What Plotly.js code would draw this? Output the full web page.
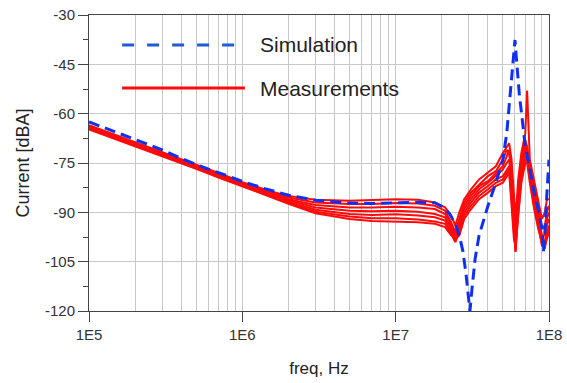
<!DOCTYPE html>
<html>
<head>
<meta charset="utf-8">
<script src="https://cdn.plot.ly/plotly-3.0.1.min.js"></script>
<style>html,body{margin:0;padding:0;background:#fff;}#chart{width:567px;height:383px;}</style>
</head>
<body>
<div id="chart"></div>
<script>
// ---- Data ----
var legendLabels = ["Simulation", "Measurements"];
var xTickVals = [1e5, 1e6, 1e7, 1e8];
var xTickText = ["1E5", "1E6", "1E7", "1E8"];
var yTickVals = [-30, -45, -60, -75, -90, -105, -120];
var yTickText = ["-30", "-45", "-60", "-75", "-90", "-105", "-120"];

var simFreq = [1e5,1.3e5,1.8e5,2.5e5,3e5,4e5,5.5e5,7.7e5,1e6,1.4e6,2e6,3e6,5e6,7e6,1e7,1.4e7,1.8e7,2.05e7,2.25e7,2.45e7,2.6e7,2.75e7,2.88e7,2.98e7,3.05e7,3.15e7,3.3e7,3.5e7,3.8e7,4e7,4.5e7,5e7,5.3e7,5.6e7,5.8e7,6.0e7,6.1e7,6.2e7,6.4e7,6.7e7,7e7,7.5e7,8e7,8.5e7,9e7,9.2e7,9.4e7,9.7e7,1e8];
var simVal  = [-62.5,-64.5,-67,-69.5,-71,-73.6,-76.2,-78.6,-80.6,-82.8,-84.8,-86.3,-87.2,-87.3,-87.2,-86.9,-87.1,-88.5,-90.5,-93.5,-97,-102,-109,-116,-120,-113,-104,-97,-91,-88,-81,-74,-66,-54,-45,-37.6,-42,-46,-54,-62,-70,-77,-84,-89,-95,-102,-96,-84,-74];

var measFreq = [1e5,1.5e5,2e5,3e5,5e5,7e5,1e6,1.5e6,2e6,3e6,5e6,7e6,1e7,1.4e7,1.8e7,2.1e7,2.3e7,2.45e7,2.6e7,2.8e7,3.1e7,3.5e7,4e7,4.5e7,5e7,5.3e7,5.5e7,5.7e7,5.9e7,6.05e7,6.3e7,6.6e7,7e7,7.2e7,7.5e7,8e7,8.5e7,9e7,9.4e7,9.7e7,1e8];
var meas1 = [-63.5,-66.5,-68.5,-71.5,-75.5,-78,-80.8,-83.5,-85,-86.2,-86.5,-86.3,-86,-86.2,-87,-88.5,-91,-94,-90,-86,-83,-80,-78,-76,-72,-70,-69,-74,-85,-92,-80,-72,-66,-53,-74,-80,-86,-92,-90,-86,-86];
var meas2 = [-63.8,-66.8,-68.8,-71.8,-75.8,-78.3,-81,-83.8,-85.5,-87,-87.5,-87.5,-87.2,-87.3,-88,-89.5,-93,-96,-92,-87,-84,-81.5,-79,-77.5,-74,-71,-72,-78,-90,-96,-83,-74,-68,-70,-76,-82,-88,-95,-94,-90,-88];
var meas3 = [-64,-67,-69,-72,-76,-78.5,-81.2,-84,-86,-87.8,-88.5,-88.5,-88.3,-88.5,-89,-90.5,-94,-97,-93,-88,-85,-82,-80.5,-78,-76,-73,-71,-80,-93,-99,-85,-76,-70,-71,-77,-84,-90,-97,-97,-92,-90];
var meas4 = [-64.2,-67.2,-69.2,-72.2,-76.2,-78.8,-81.5,-84.3,-86.3,-88.5,-89.5,-89.7,-89.5,-89.8,-90.5,-91.5,-95,-98,-94,-89,-86,-83,-81,-79,-77,-75,-74,-82,-95,-101,-87,-78,-71,-72,-78,-86,-92,-99,-99,-94,-92];
var meas5 = [-64.4,-67.4,-69.4,-72.4,-76.4,-79,-81.8,-84.6,-86.7,-89.2,-90.5,-90.8,-90.6,-91,-91.5,-92.5,-96,-99,-95,-90,-87,-84,-82,-80,-79,-77,-76,-84,-96,-102,-88,-79,-73,-73,-79,-87,-93,-100,-100,-96,-94];
var meas6 = [-64.6,-67.6,-69.6,-72.6,-76.6,-79.2,-82,-85,-87,-89.8,-91.3,-91.8,-91.8,-92.2,-92.8,-93.5,-96.5,-99,-96,-91,-88,-85,-83,-81,-80,-78,-77,-86,-97,-102,-90,-80,-74,-74,-80,-88,-94,-100,-101,-97,-95];
var meas7 = [-64.8,-67.8,-69.8,-72.8,-76.8,-79.4,-82.2,-85.3,-87.4,-90.3,-92,-92.6,-92.7,-93,-93.5,-94.5,-97,-98,-97,-92,-89,-86,-84,-82,-81,-79,-78,-88,-98,-100,-91,-81,-75,-75,-81,-89,-95,-99,-100,-98,-96];
var measSets = [meas1, meas2, meas3, meas4, meas5, meas6, meas7];

// ---- Styles ----
var simColor = '#1030f0';
var measColor = '#ff0a0a';

var traces = [];
measSets.forEach(function (m) {
  traces.push({
    x: measFreq, y: m, type: 'scatter', mode: 'lines',
    line: {color: measColor, width: 2}, showlegend: false, hoverinfo: 'skip'
  });
});
traces.push({
  x: simFreq, y: simVal, type: 'scatter', mode: 'lines',
  line: {color: simColor, width: 3, dash: '11px,6px'}, showlegend: false, hoverinfo: 'skip'
});

var layout = {
  width: 567, height: 383,
  margin: {l: 89, r: 18, t: 15, b: 72},
  paper_bgcolor: '#fff', plot_bgcolor: '#fff',
  showlegend: false,
  font: {family: 'Liberation Sans, Arial, sans-serif', color: '#333'},
  xaxis: {
    type: 'log', range: [5, 8],
    tickvals: xTickVals, ticktext: xTickText,
    tickfont: {size: 15, color: '#333'},
    ticks: 'outside', ticklen: 10, tickcolor: '#444',
    showgrid: true, gridcolor: '#c8c8c8', gridwidth: 1,
    minor: {dtick: 'D1', showgrid: true, gridcolor: '#c8c8c8', gridwidth: 1, ticks: ''},
    showline: true, linecolor: '#444', linewidth: 1, mirror: true,
    zeroline: false,
    title: {text: 'freq, Hz', font: {size: 17, color: '#222'}, standoff: 20}
  },
  yaxis: {
    range: [-120, -30],
    tickvals: yTickVals, ticktext: yTickText,
    tickfont: {size: 15, color: '#333'},
    ticks: 'outside', ticklen: 10, tickcolor: '#444',
    showgrid: true, gridcolor: '#c8c8c8', gridwidth: 1,
    minor: {dtick: 7.5, tick0: -30, ticks: 'outside', ticklen: 5, tickcolor: '#444', showgrid: false},
    showline: true, linecolor: '#444', linewidth: 1, mirror: true,
    zeroline: false,
    title: {text: 'Current [dBA]', font: {size: 18, color: '#222'}, standoff: 10}
  },
  shapes: [
    {type: 'line', xref: 'paper', yref: 'paper', x0: 0.072, x1: 0.339, y0: 0.899, y1: 0.899,
     line: {color: '#1f5bd6', width: 3, dash: '12px,13px'}},
    {type: 'line', xref: 'paper', yref: 'paper', x0: 0.072, x1: 0.339, y0: 0.753, y1: 0.753,
     line: {color: measColor, width: 3}}
  ],
  annotations: [
    {xref: 'paper', yref: 'paper', x: 0.367, y: 0.899, xanchor: 'left', yanchor: 'middle',
     text: legendLabels[0], showarrow: false, font: {size: 21, color: '#222'}},
    {xref: 'paper', yref: 'paper', x: 0.367, y: 0.753, xanchor: 'left', yanchor: 'middle',
     text: legendLabels[1], showarrow: false, font: {size: 21, color: '#222'}}
  ]
};

Plotly.newPlot('chart', traces, layout, {staticPlot: true, displayModeBar: false});
</script>
</body>
</html>
